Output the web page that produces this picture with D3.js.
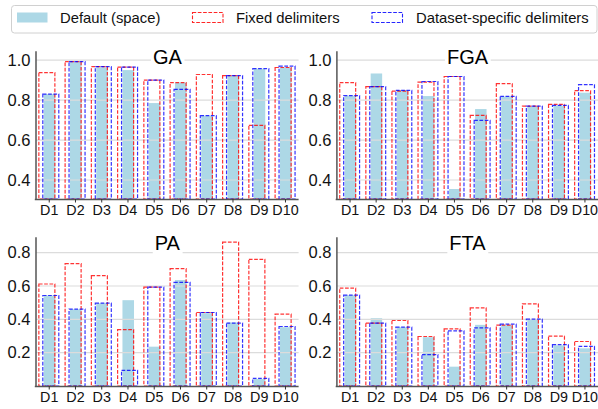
<!DOCTYPE html>
<html><head><meta charset="utf-8">
<script src="https://cdn.jsdelivr.net/npm/d3@7"></script>
<style>
html,body{margin:0;padding:0;background:#fff;}
svg{display:block;font-family:"Liberation Sans",Arial,sans-serif;}
</style></head>
<body>
<svg id="chart" width="598" height="409"></svg>
<script>
const categories = ["D1","D2","D3","D4","D5","D6","D7","D8","D9","D10"];
const seriesNames = ["Default (space)","Fixed delimiters","Dataset-specific delimiters"];

const gaDefault = [0.83,0.99,0.963,0.95,0.785,0.888,0.722,0.92,0.957,0.963];
const gaFixed   = [0.937,0.992,0.967,0.965,0.90,0.887,0.928,0.922,0.673,0.963];
const gaDataset = [0.83,0.992,0.967,0.965,0.90,0.853,0.722,0.922,0.957,0.97];

const fgaDefault = [0.822,0.933,0.85,0.82,0.355,0.755,0.818,0.768,0.772,0.837];
const fgaFixed   = [0.887,0.867,0.845,0.89,0.918,0.723,0.882,0.77,0.778,0.847];
const fgaDataset = [0.822,0.867,0.848,0.893,0.918,0.698,0.818,0.77,0.773,0.877];

const paDefault = [0.543,0.461,0.497,0.515,0.236,0.636,0.437,0.381,0.042,0.353];
const paFixed   = [0.612,0.734,0.662,0.338,0.593,0.704,0.441,0.864,0.760,0.431];
const paDataset = [0.543,0.461,0.497,0.094,0.593,0.622,0.441,0.377,0.046,0.357];

const ftaDefault = [0.545,0.407,0.353,0.293,0.116,0.367,0.365,0.401,0.244,0.226];
const ftaFixed   = [0.587,0.377,0.393,0.297,0.343,0.469,0.365,0.493,0.299,0.267];
const ftaDataset = [0.545,0.377,0.353,0.188,0.331,0.349,0.371,0.401,0.248,0.238];

const topTicks = [0.4,0.6,0.8,1.0];
const bottomTicks = [0.2,0.4,0.6,0.8];

const panels = [
  {title:"GA",  vals:[gaDefault,gaFixed,gaDataset],   x0:36.1,  w:262.5, y0:199, y1:50.7,  dom:[0.305,1.047], ticks:topTicks},
  {title:"FGA", vals:[fgaDefault,fgaFixed,fgaDataset],x0:337.0, w:261.0, y0:199, y1:50.7,  dom:[0.305,1.047], ticks:topTicks},
  {title:"PA",  vals:[paDefault,paFixed,paDataset],   x0:36.1,  w:262.5, y0:386, y1:236.7, dom:[0,0.896],     ticks:bottomTicks},
  {title:"FTA", vals:[ftaDefault,ftaFixed,ftaDataset],x0:337.0, w:261.0, y0:386, y1:236.7, dom:[0,0.896],     ticks:bottomTicks}
];

const svg = d3.select("#chart");
const fillColor = "#add8e6";
const red = "#ff0000", blue = "#0000ff";
const dash = "3.7,1.6";
const fmt = d3.format(".1f");

panels.forEach(p => {
  const g = svg.append("g");
  const W = p.w;
  const x = d3.scaleBand().domain(categories).range([p.x0, p.x0 + W]).padding(0);
  const y = d3.scaleLinear().domain(p.dom).range([p.y0, p.y1]);
  const s = x.step();
  const cx = c => x(c) + s/2;

  // default fill bars
  g.selectAll("rect.def").data(categories).join("rect")
    .attr("x", c => cx(c) + (0.01 - 0.22)*s)
    .attr("width", 0.44*s)
    .attr("y", (c,i) => y(p.vals[0][i]))
    .attr("height", (c,i) => p.y0 - y(p.vals[0][i]))
    .attr("fill", fillColor);

  // grid
  g.selectAll("line.grid").data(p.ticks).join("line")
    .attr("x1", p.x0).attr("x2", p.x0 + W)
    .attr("y1", d => y(d)).attr("y2", d => y(d))
    .attr("stroke", "#dcdcdc").attr("stroke-width", 1.2);

  // fixed delimiters (red dashed)
  g.selectAll("rect.fix").data(categories).join("rect")
    .attr("x", c => cx(c) + (-0.09 - 0.305)*s)
    .attr("width", 0.61*s)
    .attr("y", (c,i) => y(p.vals[1][i]))
    .attr("height", (c,i) => p.y0 - y(p.vals[1][i]))
    .attr("fill", "none").attr("stroke", red).attr("stroke-width", 1.2)
    .attr("stroke-dasharray", dash).attr("stroke-opacity", 0.8);

  // dataset-specific (blue dashed)
  g.selectAll("rect.ds").data(categories).join("rect")
    .attr("x", c => cx(c) + (0.06 - 0.305)*s)
    .attr("width", 0.61*s)
    .attr("y", (c,i) => y(p.vals[2][i]))
    .attr("height", (c,i) => p.y0 - y(p.vals[2][i]))
    .attr("fill", "none").attr("stroke", blue).attr("stroke-width", 1.2)
    .attr("stroke-dasharray", dash).attr("stroke-opacity", 0.8);

  // y axis
  const ya = g.append("g").attr("transform", `translate(${p.x0 - 0.6},0)`)
    .call(d3.axisLeft(y).tickValues(p.ticks).tickFormat(fmt).tickSize(0).tickPadding(5));
  ya.select(".domain").attr("stroke", "#555").attr("stroke-width", 1.5);
  ya.selectAll("text").attr("font-size", 16.5).attr("fill", "#111")
    .attr("font-family", "Liberation Sans, Arial, sans-serif");

  // x axis
  const xa = g.append("g").attr("transform", `translate(0,${p.y0})`)
    .call(d3.axisBottom(x).tickSize(3.5).tickPadding(2.5).tickSizeOuter(0));
  xa.select(".domain").attr("stroke", "#555").attr("stroke-width", 1.5)
    .attr("d", `M${p.x0 - 1.3},0.5H${p.x0 + W}`);
  xa.selectAll(".tick line").attr("stroke", "#333");
  xa.selectAll("text").attr("font-size", 14.3).attr("fill", "#111")
    .attr("font-family", "Liberation Sans, Arial, sans-serif");

  // title with white box
  const tx = p.x0 + W/2;
  const ty = p.y1 + 13.5;
  const bg = g.append("rect").attr("fill", "#fff");
  const t = g.append("text").attr("x", tx).attr("y", ty)
    .attr("text-anchor", "middle").attr("font-size", 20).attr("fill", "#000")
    .text(p.title);
  const bb = t.node().getBBox();
  bg.attr("x", bb.x - 2).attr("y", bb.y).attr("width", bb.width + 4).attr("height", bb.height + 1);
});

// legend
const lg = svg.append("g");
lg.append("rect").attr("x", 11.5).attr("y", 5.5).attr("width", 585.5).attr("height", 27.5)
  .attr("rx", 3).attr("fill", "#fff").attr("stroke", "#d0d0d0").attr("stroke-width", 1);
const legendX = [17, 192.5, 372];
const textX = [60, 236, 416];
seriesNames.forEach((name, i) => {
  const r = lg.append("rect").attr("x", legendX[i]).attr("y", 12.5).attr("width", 30.5).attr("height", 10);
  if (i === 0) r.attr("fill", fillColor);
  else r.attr("fill", "none").attr("stroke", i === 1 ? red : blue).attr("stroke-width", 1.1)
        .attr("stroke-dasharray", dash).attr("stroke-opacity", 0.85);
  lg.append("text").attr("x", textX[i]).attr("y", 23).attr("font-size", 14.8).attr("fill", "#111")
    .text(name);
});
</script>
</body></html>
